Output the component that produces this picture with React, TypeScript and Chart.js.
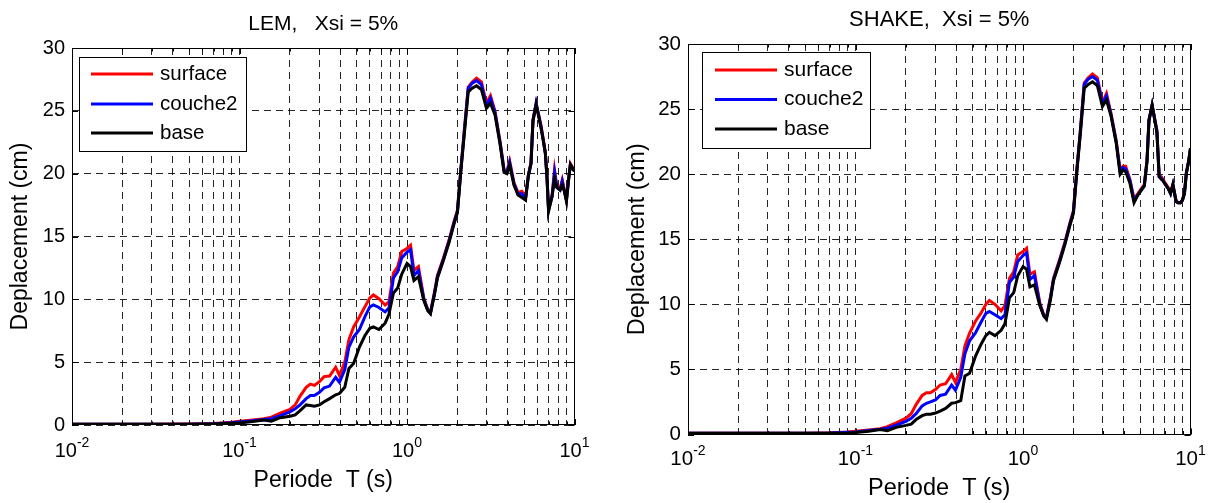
import React, { useEffect, useRef } from "react";
import { Chart, registerables } from "chart.js";

Chart.register(...registerables);

// ---------------- DATA ----------------
const periods = [
  0.01, 0.02, 0.03, 0.05, 0.07, 0.09, 0.1,
  0.12, 0.14, 0.155, 0.175, 0.2,
  0.215, 0.23, 0.25, 0.265, 0.28,
  0.3, 0.32, 0.345, 0.375, 0.395,
  0.425, 0.45, 0.48, 0.52, 0.56,
  0.6, 0.63, 0.68, 0.74, 0.78,
  0.83, 0.88, 0.93, 1.0, 1.05,
  1.1, 1.17, 1.26, 1.33, 1.38,
  1.46, 1.52, 1.65, 1.78, 1.9,
  2.0, 2.1, 2.2, 2.32, 2.45,
  2.6, 2.78, 2.98, 3.15, 3.35,
  3.6, 3.8, 3.95, 4.1, 4.35,
  4.6, 4.85, 5.1, 5.3, 5.5,
  5.65, 5.9, 6.3, 6.5, 6.7,
  6.85, 7.0, 7.35, 7.6, 7.85,
  8.2, 8.45, 8.7, 8.95, 9.2,
  9.45, 9.75, 10,
];

const lemSurface = [
  0.05, 0.05, 0.05, 0.07, 0.12, 0.22, 0.3,
  0.4, 0.5, 0.62, 0.95, 1.25,
  1.6, 2.3, 3.0, 3.25, 3.15,
  3.45, 3.85, 3.9, 4.6, 3.95,
  5.0, 6.8, 7.8, 8.6, 9.4,
  10.1, 10.35, 10.05, 9.55, 9.8,
  12.1, 12.6, 13.8, 14.05, 14.3,
  12.3, 12.6, 10.1, 9.2, 8.95,
  10.6, 11.9, 13.3, 14.7, 16.1,
  17.1, 20.5, 23.5, 26.9, 27.3,
  27.6, 27.3, 25.6, 26.2, 25.0,
  22.5, 20.3, 20.2, 21.0, 19.3,
  18.5, 18.6, 18.1, 19.9, 20.9,
  24.3, 25.6, 23.9, 22.8, 21.7,
  19.8, 17.2, 18.3, 20.3, 19.0,
  18.8, 19.5, 18.7, 17.9, 19.5,
  20.8, 20.5, 20.2,
];
const lemCouche2 = [
  0.05, 0.05, 0.05, 0.06, 0.1, 0.18, 0.24,
  0.34, 0.44, 0.5, 0.75, 1.05,
  1.3, 1.6, 2.1, 2.35, 2.35,
  2.6, 2.95, 3.1, 3.8, 3.4,
  4.4, 6.2, 7.0, 7.6, 8.6,
  9.4, 9.55, 9.35, 9.0, 9.3,
  11.7, 12.2, 13.3, 13.75, 13.95,
  11.9, 12.3, 10.0, 9.15, 8.9,
  10.5, 11.8, 13.2, 14.6, 16.0,
  17.0, 20.4, 23.4, 26.8, 27.2,
  27.4, 27.1, 25.4, 26.0, 24.9,
  22.4, 20.2, 20.1, 20.9, 19.2,
  18.4, 18.4, 18.0, 19.8, 20.8,
  24.2, 25.6, 23.8, 22.7, 21.6,
  19.7, 17.1, 18.2, 20.1, 18.9,
  18.7, 19.4, 18.6, 17.9, 19.4,
  20.7, 20.4, 20.2,
];
const lemBase = [
  0.05, 0.05, 0.05, 0.05, 0.08, 0.13, 0.16,
  0.28, 0.4, 0.3, 0.58, 0.7,
  0.8, 1.15, 1.6, 1.55, 1.5,
  1.6, 1.85, 2.1, 2.4, 2.5,
  3.0, 4.5, 4.9, 6.2, 7.1,
  7.7, 7.8, 7.6, 8.1, 8.8,
  10.5, 10.9, 12.0, 12.85, 12.6,
  11.5, 11.8, 9.9, 9.1, 8.85,
  10.4, 11.7, 13.1, 14.5, 15.9,
  16.9, 20.3, 23.2, 26.5, 26.8,
  27.0, 26.7, 25.2, 25.6, 24.7,
  22.3, 20.1, 20.0, 20.7, 19.1,
  18.3, 18.1, 17.9, 19.8, 20.8,
  24.2, 25.5, 23.7, 22.7, 21.6,
  19.7, 17.0, 18.2, 19.6, 18.9,
  18.7, 19.1, 18.6, 17.8, 19.4,
  20.7, 20.4, 20.2,
];

const shakeSurface = [
  0.1, 0.1, 0.1, 0.1, 0.13, 0.2, 0.25,
  0.35, 0.45, 0.6, 0.9, 1.25,
  1.6, 2.3, 3.0, 3.2, 3.2,
  3.45, 3.8, 3.9, 4.6, 4.0,
  5.0, 6.8, 7.8, 8.7, 9.3,
  10.0, 10.3, 10.0, 9.5, 9.9,
  12.0, 12.5, 13.8, 14.05, 14.3,
  12.3, 12.5, 10.1, 9.2, 9.0,
  10.6, 12.0, 13.4, 14.8, 16.2,
  17.2, 20.5, 23.4, 27.0, 27.4,
  27.7, 27.4, 25.5, 26.2, 24.7,
  22.6, 20.3, 20.6, 20.6, 19.6,
  18.1, 18.5, 18.9, 19.2, 21.1,
  24.2, 25.3, 23.4, 19.9, 19.8,
  19.6, 19.4, 19.0, 18.6, 19.2,
  18.0, 17.8, 17.8, 18.0, 18.6,
  20.1, 21.0, 22.0,
];
const shakeCouche2 = [
  0.1, 0.1, 0.1, 0.1, 0.11, 0.17, 0.2,
  0.3, 0.4, 0.48, 0.72, 1.0,
  1.25, 1.6, 2.2, 2.4, 2.5,
  2.65, 3.0, 3.1, 3.8, 3.4,
  4.4, 6.2, 7.2, 7.8, 8.6,
  9.3, 9.45, 9.2, 8.9, 9.2,
  11.7, 12.1, 13.3, 13.75, 13.95,
  11.9, 12.2, 10.0, 9.15, 8.95,
  10.5, 11.9, 13.3, 14.7, 16.1,
  17.1, 20.4, 23.3, 26.9, 27.3,
  27.5, 27.2, 25.4, 26.0, 24.6,
  22.5, 20.2, 20.5, 20.4, 19.5,
  18.0, 18.4, 18.8, 19.1, 21.0,
  24.1, 25.3, 23.3, 19.8, 19.7,
  19.5, 19.3, 18.9, 18.5, 19.2,
  17.9, 17.8, 17.8, 18.0, 18.5,
  20.1, 21.0, 22.0,
];
const shakeBase = [
  0.1, 0.1, 0.1, 0.1, 0.09, 0.12, 0.15,
  0.25, 0.38, 0.3, 0.55, 0.7,
  0.8, 1.15, 1.45, 1.55, 1.55,
  1.65, 1.8, 2.0, 2.4, 2.45,
  2.6, 4.5, 4.7, 6.0, 6.9,
  7.6, 7.85, 7.6, 8.0, 8.5,
  10.5, 10.9, 12.2, 12.9, 12.7,
  11.35, 11.5, 9.9, 9.1, 8.85,
  10.4, 11.8, 13.2, 14.6, 16.0,
  17.0, 20.3, 23.1, 26.6, 26.9,
  27.1, 26.8, 25.2, 25.7, 24.5,
  22.4, 20.0, 20.3, 20.2, 19.3,
  17.8, 18.4, 18.8, 19.1, 21.0,
  24.1, 25.3, 23.2, 19.8, 19.6,
  19.5, 19.3, 18.9, 18.5, 19.2,
  17.9, 17.8, 17.8, 18.0, 18.5,
  20.1, 21.0, 22.0,
];

const seriesLabels = ["surface", "couche2", "base"];
const seriesColors = ["#ff0000", "#0000ff", "#000000"];

const xGridTicks = [
  0.01, 0.02, 0.03, 0.04, 0.05, 0.06, 0.07, 0.08, 0.09,
  0.1, 0.2, 0.3, 0.4, 0.5, 0.6, 0.7, 0.8, 0.9,
  1, 2, 3, 4, 5, 6, 7, 8, 9,
  10,
];
const decadeTicks = [0.01, 0.1, 1, 10];
const decadeExponents = ["-2", "-1", "0", "1"];
const yTickValues = [0, 5, 10, 15, 20, 25, 30];

const titleLem = "LEM,   Xsi = 5%";
const titleShake = "SHAKE,  Xsi = 5%";
const xAxisTitle = "Periode  T (s)";
const yAxisTitle = "Deplacement (cm)";

// ---------------- LAYOUT / STYLE ----------------
const H = 503;
const FONT = "'Liberation Sans', Arial, Helvetica, sans-serif";

type Panel = {
  title: string;
  values: number[][];
  offsetX: number;
  width: number;
  area: { left: number; right: number; top: number; bottom: number };
  titleSize: number;
  labelSize: number;
  tickSize: number;
  titleCenterY: number;
  xTitleCenterY: number;
  yTitleCenterX: number;
  tickBaselineGap: number;
  legend: { x: number; y: number; w: number; h: number; rows: number[]; lx0: number; lx1: number; tx: number; size: number };
};

const panels: Panel[] = [
  {
    title: titleLem,
    values: [lemSurface, lemCouche2, lemBase],
    offsetX: 0,
    width: 605,
    area: { left: 72, right: 574.5, top: 48, bottom: 425 },
    titleSize: 21,
    labelSize: 23,
    tickSize: 20,
    titleCenterY: 24,
    xTitleCenterY: 481,
    yTitleCenterX: 21,
    tickBaselineGap: 32,
    legend: { x: 79, y: 57, w: 167, h: 94, rows: [74, 104, 133], lx0: 91, lx1: 153, tx: 160, size: 20.5 },
  },
  {
    title: titleShake,
    values: [shakeSurface, shakeCouche2, shakeBase],
    offsetX: 605,
    width: 606,
    area: { left: 83, right: 585.5, top: 44, bottom: 434.5 },
    titleSize: 22,
    labelSize: 23.5,
    tickSize: 20.5,
    titleCenterY: 20,
    xTitleCenterY: 490,
    yTitleCenterX: 33,
    tickBaselineGap: 30.5,
    legend: { x: 97, y: 52, w: 168, h: 96, rows: [70, 99.5, 129], lx0: 110, lx1: 172, tx: 179, size: 21 },
  },
];

const GRID_COLOR = "rgba(0,0,0,0.85)";

const decorPlugin = {
  id: "matlabDecor",
  afterDraw(chart: any, _args: any, opts: any) {
    const { ctx, chartArea: a, scales } = chart;
    const xs = scales.x;
    const ys = scales.y;
    const p: Panel = opts.panel;
    ctx.save();
    ctx.setLineDash([]);
    ctx.strokeStyle = "#000";
    ctx.lineWidth = 1;

    // inward tick marks
    ctx.beginPath();
    for (const t of xGridTicks) {
      const px = Math.round(xs.getPixelForValue(t)) + 0.5;
      const len = decadeTicks.includes(t) ? 6 : 3.5;
      ctx.moveTo(px, a.bottom);
      ctx.lineTo(px, a.bottom - len);
      ctx.moveTo(px, a.top);
      ctx.lineTo(px, a.top + len);
    }
    for (const v of yTickValues) {
      const py = Math.round(ys.getPixelForValue(v)) + 0.5;
      ctx.moveTo(a.left, py);
      ctx.lineTo(a.left + 6, py);
      ctx.moveTo(a.right, py);
      ctx.lineTo(a.right - 6, py);
    }
    ctx.stroke();

    // axes box
    const l = Math.round(a.left) + 0.5;
    const r = Math.round(a.right) - 0.5;
    const t = Math.round(a.top) + 0.5;
    const b = Math.round(a.bottom) - 0.5;
    ctx.strokeRect(l, t, r - l, b - t);

    // x tick labels with superscript exponent
    ctx.fillStyle = "#000";
    ctx.textBaseline = "alphabetic";
    ctx.textAlign = "left";
    const baseFont = `${p.tickSize}px ${FONT}`;
    const supFont = `${Math.round(p.tickSize * 0.7)}px ${FONT}`;
    const baseY = a.bottom + p.tickBaselineGap;
    decadeTicks.forEach((v, i) => {
      const x = xs.getPixelForValue(v);
      ctx.font = baseFont;
      const w1 = ctx.measureText("10").width;
      ctx.font = supFont;
      const w2 = ctx.measureText(decadeExponents[i]).width;
      const start = x - (w1 + w2) / 2;
      ctx.font = baseFont;
      ctx.fillText("10", start, baseY);
      ctx.font = supFont;
      ctx.fillText(decadeExponents[i], start + w1, baseY - 10);
    });

    // legend
    const lg = p.legend;
    ctx.fillStyle = "#fff";
    ctx.fillRect(lg.x, lg.y, lg.w, lg.h);
    ctx.strokeStyle = "#000";
    ctx.lineWidth = 1;
    ctx.strokeRect(lg.x + 0.5, lg.y + 0.5, lg.w, lg.h);
    chart.data.datasets.forEach((ds: any, i: number) => {
      const y = lg.rows[i];
      ctx.strokeStyle = ds.borderColor;
      ctx.lineWidth = 3;
      ctx.beginPath();
      ctx.moveTo(lg.lx0, y);
      ctx.lineTo(lg.lx1, y);
      ctx.stroke();
      ctx.fillStyle = "#000";
      ctx.font = `${lg.size}px ${FONT}`;
      ctx.textBaseline = "middle";
      ctx.fillText(ds.label, lg.tx, y);
    });
    ctx.restore();
  },
};

function buildConfig(p: Panel): any {
  const titleLH = p.titleSize * 1.2;
  const titleTop = p.titleCenterY - titleLH / 2;
  const axisLH = p.labelSize * 1.2;
  return {
    type: "line",
    data: {
      datasets: seriesLabels.map((label, i) => ({
        label,
        data: periods.map((x, k) => ({ x, y: p.values[i][k] })),
        borderColor: seriesColors[i],
        backgroundColor: seriesColors[i],
        borderWidth: 3,
        pointRadius: 0,
        tension: 0,
        fill: false,
        order: 2 - i,
      })),
    },
    options: {
      responsive: false,
      maintainAspectRatio: false,
      animation: false,
      events: [],
      layout: { padding: { left: 0, top: 0, bottom: 0, right: p.width - p.area.right } },
      plugins: {
        legend: { display: false },
        tooltip: { enabled: false },
        title: {
          display: true,
          text: p.title,
          fullSize: false,
          color: "#000",
          font: { family: FONT, size: p.titleSize, weight: "normal", lineHeight: 1.2 },
          padding: { top: titleTop, bottom: p.area.top - titleTop - titleLH },
        },
        matlabDecor: { panel: p },
      },
      scales: {
        x: {
          type: "logarithmic",
          min: 0.01,
          max: 10,
          afterBuildTicks: (s: any) => {
            s.ticks = xGridTicks.map((value) => ({ value }));
          },
          afterFit: (s: any) => {
            s.height = H - p.area.bottom;
          },
          ticks: { display: false },
          grid: { color: GRID_COLOR, lineWidth: 1, drawTicks: false },
          border: { display: false, dash: [7, 5] },
          title: {
            display: true,
            text: xAxisTitle,
            color: "#000",
            font: { family: FONT, size: p.labelSize, weight: "normal", lineHeight: 1.2 },
            padding: { top: 0, bottom: Math.max(0, H - p.xTitleCenterY - axisLH / 2) },
          },
        },
        y: {
          type: "linear",
          min: 0,
          max: 30,
          afterFit: (s: any) => {
            s.width = p.area.left;
          },
          ticks: {
            stepSize: 5,
            autoSkip: false,
            padding: 7,
            color: "#000",
            font: { family: FONT, size: p.tickSize },
          },
          grid: { color: GRID_COLOR, lineWidth: 1, drawTicks: false },
          border: { display: false, dash: [7, 5] },
          title: {
            display: true,
            text: yAxisTitle,
            color: "#000",
            font: { family: FONT, size: p.labelSize, weight: "normal", lineHeight: 1.2 },
            padding: { top: p.yTitleCenterX - axisLH / 2, bottom: 0 },
          },
        },
      },
    },
    plugins: [decorPlugin],
  };
}

function ChartPanel({ panel }: { panel: Panel }) {
  const ref = useRef<HTMLCanvasElement>(null);
  useEffect(() => {
    if (!ref.current) return;
    const chart = new Chart(ref.current, buildConfig(panel));
    return () => chart.destroy();
  }, [panel]);
  return (
    <canvas
      ref={ref}
      width={panel.width}
      height={H}
      style={{ position: "absolute", left: panel.offsetX, top: 0, width: panel.width, height: H }}
    />
  );
}

export default function App() {
  return (
    <div style={{ position: "absolute", left: 0, top: 0, width: 1211, height: H, background: "#fff" }}>
      {panels.map((p, i) => (
        <ChartPanel key={i} panel={p} />
      ))}
    </div>
  );
}
